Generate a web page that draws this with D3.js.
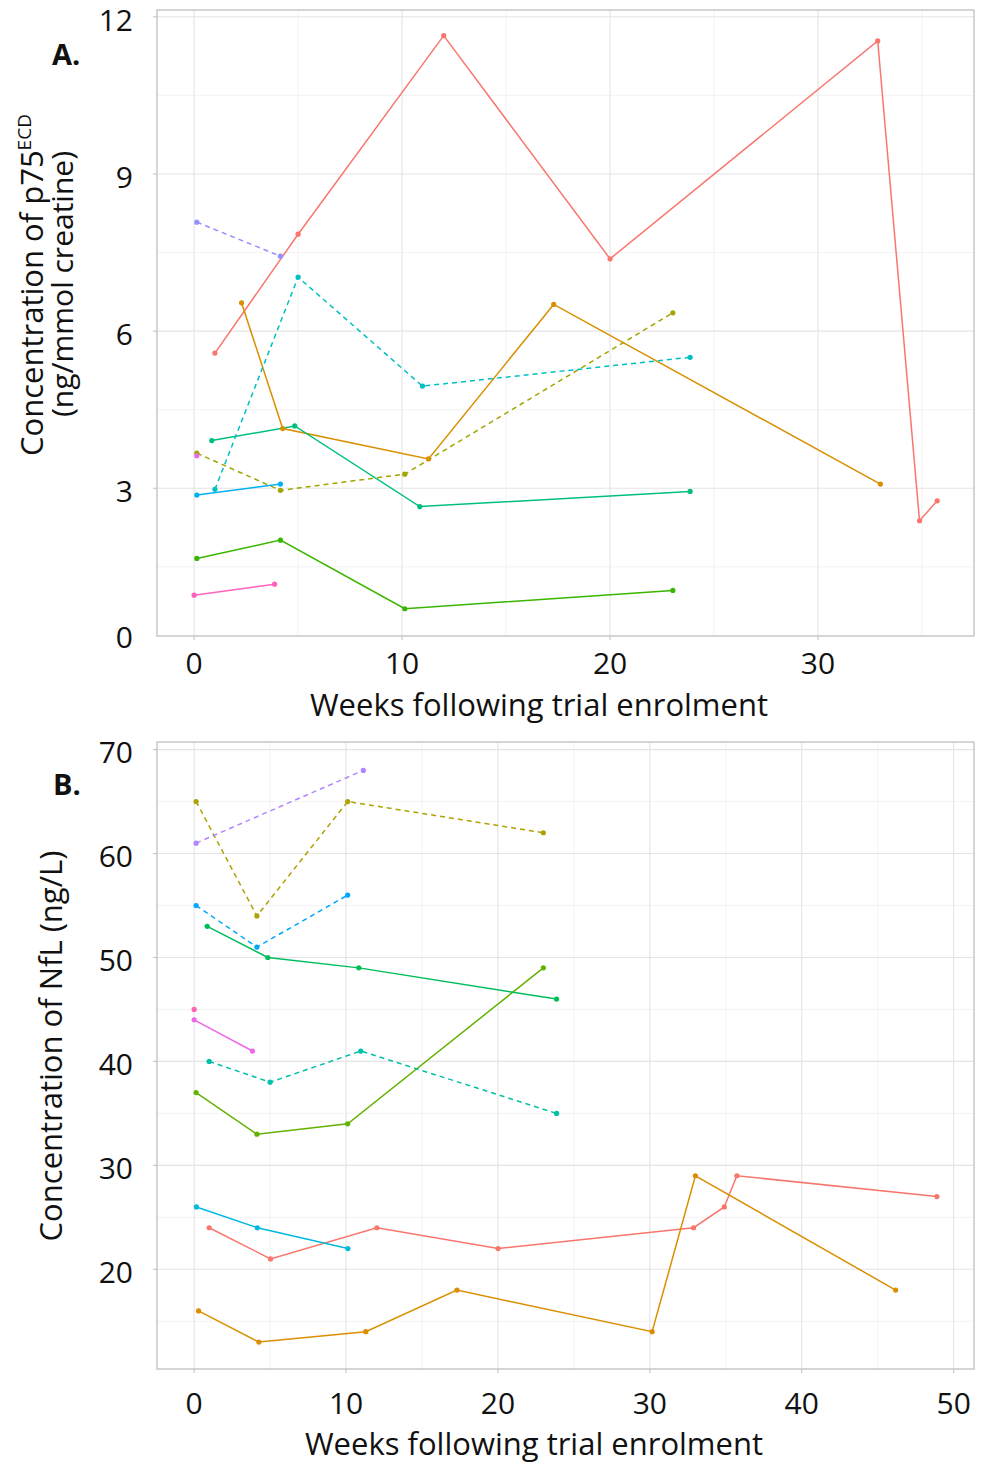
<!DOCTYPE html>
<html>
<head>
<meta charset="utf-8">
<script src="https://cdn.jsdelivr.net/npm/d3@7"></script>
<style>
  html, body { margin: 0; padding: 0; background: #ffffff; }
  svg { display: block; font-family: "Open Sans", "Noto Sans", sans-serif; }
</style>
</head>
<body>
<svg id="chart" width="984" height="1464"></svg>
<script>
// ---------------- Panel A data: p75ECD (ng/mmol creatine) ----------------
const A_xTicks = [0, 10, 20, 30];
const A_xMinor = [5, 15, 25, 35];
const A_yTicks = [0, 3, 6, 9, 12];
const A_yMinor = [1.5, 4.5, 7.5, 10.5];

const A_red_x = [1.0, 5.0, 12.0, 20.0, 32.87, 34.88, 35.73];
const A_red_y = [5.58, 7.85, 11.64, 7.38, 11.54, 2.38, 2.76];
const A_orange_x = [2.28, 4.26, 11.27, 17.29, 33.0];
const A_orange_y = [6.54, 4.14, 3.56, 6.51, 3.08];
const A_olive_x = [0.13, 4.15, 10.13, 23.02];
const A_olive_y = [3.67, 2.96, 3.27, 6.35];
const A_green_x = [0.13, 4.15, 10.13, 23.02];
const A_green_y = [1.66, 2.01, 0.70, 1.05];
const A_teal_x = [0.85, 4.84, 10.85, 23.85];
const A_teal_y = [3.91, 4.19, 2.65, 2.94];
const A_cyan_x = [1.0, 5.0, 10.98, 23.85];
const A_cyan_y = [2.98, 7.03, 4.95, 5.50];
const A_blue_x = [0.13, 4.15];
const A_blue_y = [2.87, 3.08];
const A_purple_x = [0.13, 4.15];
const A_purple_y = [8.08, 7.43];
const A_magenta_x = [0.13];
const A_magenta_y = [3.62];
const A_pink_x = [0.0, 3.87];
const A_pink_y = [0.96, 1.17];

// ---------------- Panel B data: NfL (ng/L) ----------------
const B_xTicks = [0, 10, 20, 30, 40, 50];
const B_xMinor = [5, 15, 25, 35, 45];
const B_yTicks = [20, 30, 40, 50, 60, 70];
const B_yMinor = [15, 25, 35, 45, 55, 65];

const B_red_x = [0.99, 5.03, 12.03, 20.01, 32.88, 34.9, 35.73, 48.9];
const B_red_y = [24, 21, 24, 22, 24, 26, 29, 27];
const B_orange_x = [0.29, 4.26, 11.3, 17.3, 30.15, 33.0, 46.18];
const B_orange_y = [16, 13, 14, 18, 14, 29, 18];
const B_olive_x = [0.13, 4.13, 10.11, 22.99];
const B_olive_y = [65, 54, 65, 62];
const B_lime_x = [0.13, 4.13, 10.11, 22.99];
const B_lime_y = [37, 33, 34, 49];
const B_green_x = [0.86, 4.85, 10.84, 23.86];
const B_green_y = [53, 50, 49, 46];
const B_teal_x = [0.99, 5.0, 10.97, 23.86];
const B_teal_y = [40, 38, 41, 35];
const B_cyan_x = [0.15, 4.16, 10.12];
const B_cyan_y = [26, 24, 22];
const B_blue_x = [0.13, 4.13, 10.11];
const B_blue_y = [55, 51, 56];
const B_purple_x = [0.13, 11.14];
const B_purple_y = [61, 68];
const B_magenta_x = [0.0, 3.84];
const B_magenta_y = [44, 41];
const B_pink_x = [0.0];
const B_pink_y = [45];

// ---------------- Build series tables ----------------
function mk(xs, ys, color, dashed) {
  return { pts: xs.map((x, i) => ({ x: x, y: ys[i] })), color: color, dashed: dashed };
}
const seriesA = [
  mk(A_red_x, A_red_y, "#F8766D", false),
  mk(A_orange_x, A_orange_y, "#D89000", false),
  mk(A_olive_x, A_olive_y, "#A3A500", true),
  mk(A_green_x, A_green_y, "#39B600", false),
  mk(A_teal_x, A_teal_y, "#00BF7D", false),
  mk(A_cyan_x, A_cyan_y, "#00BFC4", true),
  mk(A_blue_x, A_blue_y, "#00B0F6", false),
  mk(A_purple_x, A_purple_y, "#9590FF", true),
  mk(A_magenta_x, A_magenta_y, "#E76BF3", false),
  mk(A_pink_x, A_pink_y, "#FF62BC", false)
];
const seriesB = [
  mk(B_red_x, B_red_y, "#F8766D", false),
  mk(B_orange_x, B_orange_y, "#DB8E00", false),
  mk(B_olive_x, B_olive_y, "#AEA200", true),
  mk(B_lime_x, B_lime_y, "#64B200", false),
  mk(B_green_x, B_green_y, "#00BD5C", false),
  mk(B_teal_x, B_teal_y, "#00C1A7", true),
  mk(B_cyan_x, B_cyan_y, "#00BADE", false),
  mk(B_blue_x, B_blue_y, "#00A6FF", true),
  mk(B_purple_x, B_purple_y, "#B385FF", true),
  mk(B_magenta_x, B_magenta_y, "#EF67EB", false),
  mk(B_pink_x, B_pink_y, "#FF63B6", false)
];

const svg = d3.select("#chart");

function drawPanel(cfg) {
  const g = svg.append("g");
  const x = d3.scaleLinear().domain(cfg.xDomain).range([cfg.left, cfg.right]);
  const y = d3.scaleLinear().domain(cfg.yDomain).range([cfg.bottom, cfg.top]);
  const inY = v => v >= cfg.yDomain[0] && v <= cfg.yDomain[1];

  // minor grid
  g.selectAll(".gxm").data(cfg.xMinor).enter().append("line")
    .attr("x1", d => x(d)).attr("x2", d => x(d))
    .attr("y1", cfg.top).attr("y2", cfg.bottom)
    .attr("stroke", "#f0f0f0").attr("stroke-width", 0.8);
  g.selectAll(".gym").data(cfg.yMinor).enter().append("line")
    .attr("x1", cfg.left).attr("x2", cfg.right)
    .attr("y1", d => y(d)).attr("y2", d => y(d))
    .attr("stroke", "#f0f0f0").attr("stroke-width", 0.8);
  // major grid
  g.selectAll(".gx").data(cfg.xTicks).enter().append("line")
    .attr("x1", d => x(d)).attr("x2", d => x(d))
    .attr("y1", cfg.top).attr("y2", cfg.bottom)
    .attr("stroke", "#e4e4e4").attr("stroke-width", 1.1);
  g.selectAll(".gy").data(cfg.yTicks.filter(inY)).enter().append("line")
    .attr("x1", cfg.left).attr("x2", cfg.right)
    .attr("y1", d => y(d)).attr("y2", d => y(d))
    .attr("stroke", "#e4e4e4").attr("stroke-width", 1.1);

  // panel border
  g.append("rect").attr("x", cfg.left).attr("y", cfg.top)
    .attr("width", cfg.right - cfg.left).attr("height", cfg.bottom - cfg.top)
    .attr("fill", "none").attr("stroke", "#c4c4c4").attr("stroke-width", 1.4);

  // tick marks
  g.selectAll(".tx").data(cfg.xTicks).enter().append("line")
    .attr("x1", d => x(d)).attr("x2", d => x(d))
    .attr("y1", cfg.bottom).attr("y2", cfg.bottom + 4)
    .attr("stroke", "#c4c4c4").attr("stroke-width", 1.1);
  g.selectAll(".ty").data(cfg.yTicks.filter(inY)).enter().append("line")
    .attr("x1", cfg.left - 4).attr("x2", cfg.left)
    .attr("y1", d => y(d)).attr("y2", d => y(d))
    .attr("stroke", "#c4c4c4").attr("stroke-width", 1.1);

  // tick labels
  g.selectAll(".lx").data(cfg.xTicks).enter().append("text")
    .attr("x", d => x(d)).attr("y", cfg.xLabelY)
    .attr("text-anchor", "middle").attr("font-size", 30).attr("fill", "#111")
    .text(d => d);
  g.selectAll(".ly").data(cfg.yTicks).enter().append("text")
    .attr("x", cfg.yLabelX)
    .attr("y", d => Math.min(y(d) + 3, cfg.bottom + 1))
    .attr("dy", "0.36em")
    .attr("text-anchor", "end").attr("font-size", 30).attr("fill", "#111")
    .text(d => d);

  // x title
  g.append("text").attr("x", cfg.xTitleX).attr("y", cfg.xTitleY)
    .attr("text-anchor", "middle").attr("font-size", 31).attr("fill", "#111")
    .text("Weeks following trial enrolment");

  // panel letter
  g.append("text").attr("x", cfg.letterX).attr("y", cfg.letterY)
    .attr("font-size", 29).attr("font-weight", "bold").attr("fill", "#111")
    .text(cfg.letter);

  // series lines
  const line = d3.line().x(d => x(d.x)).y(d => y(d.y));
  cfg.series.filter(s => s.pts.length > 1).forEach(s => {
    g.append("path").datum(s.pts)
      .attr("d", line).attr("fill", "none")
      .attr("stroke", s.color).attr("stroke-width", 1.5)
      .attr("stroke-dasharray", s.dashed ? "5,4" : null);
  });
  cfg.series.forEach(s => {
    g.selectAll(null).data(s.pts).enter().append("circle")
      .attr("cx", d => x(d.x)).attr("cy", d => y(d.y)).attr("r", 2.6)
      .attr("fill", s.color);
  });
  return g;
}

drawPanel({
  left: 157, right: 974, top: 10, bottom: 636,
  xDomain: [-1.785, 37.5], yDomain: [0.18, 12.13],
  xTicks: A_xTicks, xMinor: A_xMinor, yTicks: A_yTicks, yMinor: A_yMinor,
  xLabelY: 674, yLabelX: 133, xTitleX: 539, xTitleY: 716,
  letter: "A.", letterX: 52, letterY: 65,
  series: seriesA
});
drawPanel({
  left: 157, right: 974, top: 742, bottom: 1369,
  xDomain: [-2.445, 51.34], yDomain: [10.41, 70.73],
  xTicks: B_xTicks, xMinor: B_xMinor, yTicks: B_yTicks, yMinor: B_yMinor,
  xLabelY: 1414, yLabelX: 133, xTitleX: 534, xTitleY: 1455,
  letter: "B.", letterX: 53, letterY: 795,
  series: seriesB
});

// y titles
const tA = svg.append("text")
  .attr("transform", "translate(43,285) rotate(-90)")
  .attr("text-anchor", "middle").attr("font-size", 31).attr("fill", "#111");
tA.append("tspan").text("Concentration of p75");
tA.append("tspan").attr("font-size", 19).attr("dy", -12).text("ECD");
svg.append("text")
  .attr("transform", "translate(73,284) rotate(-90)")
  .attr("text-anchor", "middle").attr("font-size", 30).attr("fill", "#111")
  .text("(ng/mmol creatine)");
svg.append("text")
  .attr("transform", "translate(62,1046) rotate(-90)")
  .attr("text-anchor", "middle").attr("font-size", 31).attr("fill", "#111")
  .text("Concentration of NfL (ng/L)");
</script>
</body>
</html>
